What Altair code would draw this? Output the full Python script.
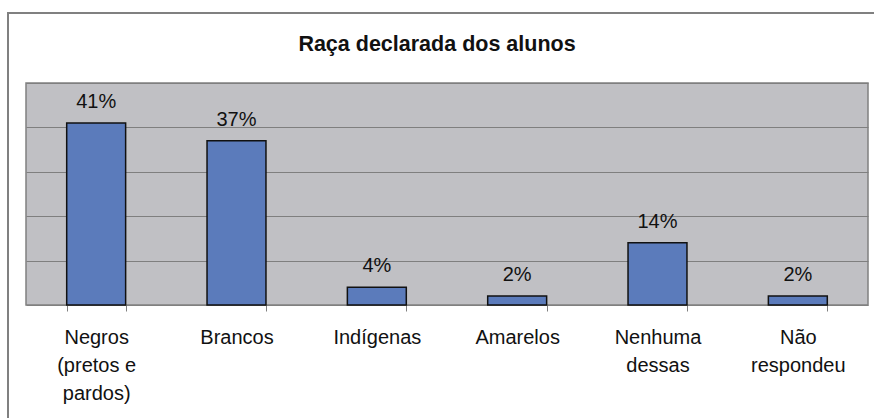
import altair as alt
import pandas as pd

title_text = "Raça declarada dos alunos"
categories = ["Negros\n(pretos e\npardos)", "Brancos", "Indígenas", "Amarelos", "Nenhuma\ndessas", "Não\nrespondeu"]
values = [41, 37, 4, 2, 14, 2]
labels = ["41%", "37%", "4%", "2%", "14%", "2%"]

df = pd.DataFrame({"cat": categories, "val": values, "lab": labels})
tdf = pd.DataFrame({"t": [title_text]})

FONT = "Liberation Sans"

x = alt.X("cat:N", sort=categories, title=None,
          scale=alt.Scale(paddingInner=0.58, paddingOuter=0.29),
          axis=alt.Axis(labelAngle=0, labelFontSize=20, labelFont=FONT, labelColor="#111111",
                        labelExpr="split(datum.label, '\\n')", labelLineHeight=28,
                        labelPadding=16, tickSize=6, tickColor="#808080", domainColor="#808080",
                        tickBand="extent", labelBaseline="top"))
y = alt.Y("val:Q", title=None, scale=alt.Scale(domain=[0, 50], nice=False),
          axis=alt.Axis(labels=False, ticks=False, domain=False, values=[10, 20, 30, 40, 50],
                        gridColor="#7f7f7f", gridWidth=1, gridOpacity=1))

frame = alt.Chart(df).mark_rect(fillOpacity=0, stroke="#808080", strokeWidth=1.5, clip=False).encode(
    x=alt.value(-18), x2=alt.value(900), y=alt.value(-70), y2=alt.value(400)
)
title = alt.Chart(tdf).mark_text(fontSize=21.5, font=FONT, fontWeight="bold", color="#111111",
                                 baseline="middle", align="center", clip=False).encode(
    x=alt.value(411), y=alt.value(-38), text="t:N"
)

bars = alt.Chart(df).mark_bar(color="#5b7bbb", stroke="#111111", strokeWidth=1.5).encode(x=x, y=y)
text = alt.Chart(df).mark_text(fontSize=20, font=FONT, color="#111111", baseline="alphabetic", dy=-15).encode(
    x=alt.X("cat:N", sort=categories), y="val:Q", text="lab:N")

chart = alt.layer(frame, title, bars, text).properties(
    width=842, height=222,
    autosize=alt.AutoSizeParams(type="none"),
    padding={"left": 26, "top": 83, "right": 6, "bottom": 113},
    background="white",
).configure_view(fill="#c0c0c4", stroke="#808080", strokeWidth=1.5)

chart.save("out.html", embed_options={"renderer": "svg", "actions": False})
